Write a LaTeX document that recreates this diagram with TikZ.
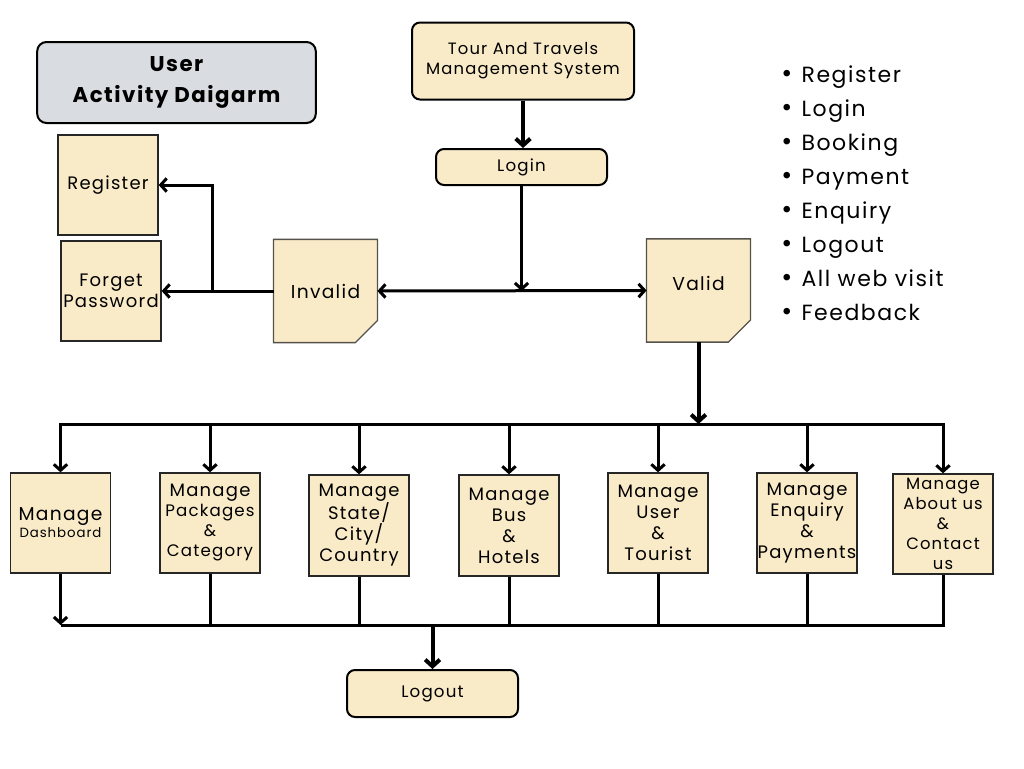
\documentclass[tikz,border=0pt]{standalone}
\usepackage{fontspec}
\setmainfont{Poppins}[LetterSpace=7]
\usetikzlibrary{arrows.meta,backgrounds}
\definecolor{cream}{HTML}{FAEBC8}
\definecolor{greybox}{HTML}{D9DCE0}
\definecolor{edgegrey}{HTML}{55524C}
\tikzset{
  rbox/.style={draw=black, line width=1.5pt, rounded corners=6pt, fill=cream, align=center, inner sep=0pt},
  sbox/.style={draw=black!85, line width=1pt, fill=cream, align=center, inner sep=0pt,
    minimum width=75pt, minimum height=75pt, font=\fontsize{13.5}{15.75}\selectfont},
  dogbox/.style={draw=none, align=center, inner sep=0pt, minimum width=77.5pt, minimum height=77pt,
    font=\fontsize{14}{16}\selectfont},
  dogshape/.style={draw=edgegrey, line width=1pt, fill=cream},
  tip/.style={-{Straight Barb[length=4.5pt,width=10pt]}},
  arr/.style={line width=2.25pt, tip},
  arrthick/.style={line width=3pt, -{Straight Barb[length=5pt,width=11pt]}},
  ln/.style={line width=2.25pt},
  bothtip/.style={line width=2.25pt, {Straight Barb[length=4.5pt,width=10pt]}-{Straight Barb[length=4.5pt,width=10pt]}},
}
\newcommand{\bul}{{\fontsize{20}{19}\selectfont•}\hspace{7pt}}
\begin{document}
\begin{tikzpicture}[x=0.75pt,y=-0.75pt]
\useasboundingbox (0,0) rectangle (1024,768);

% title
\node[draw=black, line width=1.5pt, rounded corners=7pt, fill=greybox, align=center,
  minimum width=209pt, minimum height=60.75pt, inner sep=0pt,
  font=\fontsize{16}{23}\selectfont\bfseries] (title) at (176.5,82.5) {User\\Activity Daigarm};

% top flow
\node[rbox, minimum width=166.5pt, minimum height=57.75pt, font=\fontsize{12.3}{15}\selectfont] (tour) at (523,61) {Tour And Travels\\Management System};
\node[rbox, minimum width=128.25pt, minimum height=27pt, font=\fontsize{12.5}{15}\selectfont] (login) at (521.5,167) {Login};

\node[sbox] (register) at (108,185) {Register};
\node[sbox] (forget) at (111,291) {Forget\\Password};

\node[dogbox] (invalid) at (325.5,291) {Invalid};
\node[dogbox] (valid) at (698.5,290.5) {};
\node[font=\fontsize{14}{16}\selectfont] (validtxt) at (698.5,283) {Valid};

\begin{scope}[on background layer]
\fill[white] (0,0) rectangle (1024,768);
\draw[dogshape] (invalid.north west) -- (invalid.north east) -- ([yshift=16.5pt]invalid.south east)
  -- ([xshift=-16.5pt]invalid.south east) -- (invalid.south west) -- cycle;
\draw[dogshape] (valid.north west) -- (valid.north east) -- ([yshift=16.5pt]valid.south east)
  -- ([xshift=-16.5pt]valid.south east) -- (valid.south west) -- cycle;
\end{scope}

% bullets
\node[anchor=north west, align=left, inner sep=0pt, font=\fontsize{16.5}{25.5}\selectfont] (bullets) at (781,65)
{\bul Register\\\bul Login\\\bul Booking\\\bul Payment\\\bul Enquiry\\\bul Logout\\\bul All web visit\\\bul Feedback};

% manage boxes
\node[sbox] (dash) at (60.5,523) {{\fontsize{14}{16}\selectfont Manage}\\[-3pt]{\fontsize{10}{12}\selectfont Dashboard}};
\node[sbox, font=\fontsize{12.5}{15}\selectfont] (pack) at (210,523) {{\fontsize{13.5}{15}\selectfont Manage}\\Packages\\\&\\Category};
\node[sbox, minimum height=75.75pt] (state) at (359,525.5) {Manage\\State/\\City/\\Country};
\node[sbox, minimum height=75.75pt] (busbox) at (509,525.5) {Manage\\Bus\\\&\\Hotels};
\node[sbox] (user) at (658,523) {Manage\\User\\\&\\Tourist};
\node[sbox] (enq) at (807,523) {Manage\\Enquiry\\\&\\Payments};
\node[sbox, font=\fontsize{12.3}{15}\selectfont] (about) at (943,524) {Manage\\About us\\\&\\Contact\\us};

\node[rbox, minimum width=128.25pt, minimum height=35.25pt, font=\fontsize{12.5}{15}\selectfont] (logout) at (432.5,693.5) {Logout};

\coordinate (busT) at (0,424);
\coordinate (busB) at (0,625);

% connectors
\draw[arrthick] (tour.south) -- (tour.south |- login.north);
\draw[arr] (login.south) -- (login.south |- invalid.east);
\draw[bothtip] (invalid.east) -- (valid.west);
\draw[arr] (invalid.west) -- (forget.east);
\coordinate (j1) at (212,291);
\draw[arr] (j1) |- (register.east);
\draw[arrthick] (valid.south) -- (valid.south |- busT);

\draw[bothtip] (dash.north) -- (dash.north |- busT) -- (about.north |- busT) -- (about.north);
\foreach \b in {pack,state,busbox,user,enq}{
  \draw[arr] (\b.north |- busT) -- (\b.north);
}

\draw[ln, line join=miter] (about.south) -- (about.south |- busB) -- (dash.south |- busB);
\draw[arr] (dash.south) -- (dash.south |- busB);
\foreach \b in {pack,state,busbox,user,enq}{
  \draw[ln] (\b.south) -- (\b.south |- busB);
}
\draw[arrthick] (logout.north |- busB) -- (logout.north);
\end{tikzpicture}
\end{document}
